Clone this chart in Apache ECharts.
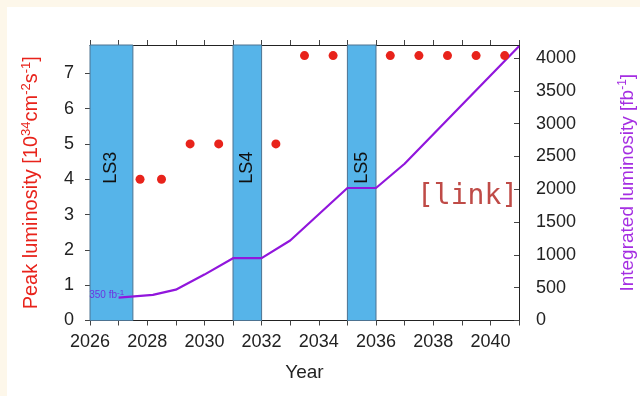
<!DOCTYPE html>
<html>
<head>
<meta charset="utf-8">
<script src="https://cdn.jsdelivr.net/npm/echarts@6/dist/echarts.min.js"></script>
<style>
  html, body { margin: 0; padding: 0; background: #fdf7ea; }
  #wrap { position: relative; width: 640px; height: 396px; }
  #paper { position: absolute; left: 7px; top: 7px; right: 0; bottom: 0; background: #ffffff; }
  #chart { position: absolute; left: 0; top: 0; width: 640px; height: 396px; }
</style>
</head>
<body>
<div id="wrap"><div id="paper"></div><div id="chart"></div></div>
<script>
// Peak luminosity per year (left axis, 10^34 cm^-2 s^-1)
const peakYears  = [2027.75, 2028.5, 2029.5, 2030.5, 2032.5, 2033.5, 2034.5, 2036.5, 2037.5, 2038.5, 2039.5, 2040.5];
const peakValues = [4, 4, 5, 5, 5, 7.5, 7.5, 7.5, 7.5, 7.5, 7.5, 7.5];

// Integrated luminosity (right axis, fb^-1)
const intYears  = [2027, 2028.2, 2029, 2030, 2031, 2032, 2033, 2035, 2036, 2037, 2041];
const intValues = [350, 390, 470, 700, 950, 950, 1220, 2020, 2020, 2390, 4180];

// Long shutdown periods
const shutdownNames = ['LS3', 'LS4', 'LS5'];
const shutdownStart = [2026, 2031, 2035];
const shutdownEnd   = [2027.5, 2032, 2036];

// Axis ticks
const yearMin = 2026, yearMax = 2041;
const peakTicks = [0, 1, 2, 3, 4, 5, 6, 7];
const intTicks = [0, 500, 1000, 1500, 2000, 2500, 3000, 3500, 4000];

const FONT = 'Liberation Sans, Arial, Helvetica, sans-serif';
const RED = '#e8231b';
const PURPLE = '#9116dc';
const BLUE = '#56b4e9';
const NOTE = '#6c35e0';

const chart = echarts.init(document.getElementById('chart'), null, { renderer: 'canvas' });

const bands = shutdownNames.map((n, i) => [
  { xAxis: shutdownStart[i], yAxis: 0, name: n },
  { xAxis: shutdownEnd[i], yAxis: 7.8 }
]);

const supStyle = (color, size) => ({ fontSize: size, color: color, fontFamily: FONT, padding: [0, 0, 10, 0] });

chart.setOption({
  animation: false,
  textStyle: { fontFamily: FONT },
  grid: { left: 90, right: 121, top: 45, bottom: 75.5, outerBoundsMode: 'none', containLabel: false },
  xAxis: [{
    type: 'value', min: yearMin, max: yearMax, interval: 1,
    name: 'Year', nameLocation: 'middle', nameGap: 43,
    nameTextStyle: { fontSize: 19, color: '#222', fontFamily: FONT },
    axisLine: { show: true, onZero: false, lineStyle: { color: '#222', width: 1 } },
    axisTick: { show: true, inside: false, length: 5, lineStyle: { color: '#444' } },
    axisLabel: {
      fontSize: 18, color: '#222', margin: 13, fontFamily: FONT,
      formatter: v => (v % 2 === 0 ? String(v) : '')
    },
    splitLine: { show: false }
  }, {
    type: 'value', min: yearMin, max: yearMax, interval: 1, position: 'top',
    axisLine: { show: true, onZero: false, lineStyle: { color: '#222', width: 1 } },
    axisTick: { show: true, inside: false, length: 5, lineStyle: { color: '#444' } },
    axisLabel: { show: false },
    splitLine: { show: false }
  }],
  yAxis: [{
    type: 'value', min: 0, max: 7.8,
    name: 'Peak luminosity [10{sup|34}cm{sup|-2}s{sup|-1}]',
    nameLocation: 'middle', nameGap: 47, nameRotate: 90,
    nameTextStyle: {
      fontSize: 20, color: RED, fontFamily: FONT,
      rich: { sup: supStyle(RED, 13) }
    },
    axisLine: { show: true, onZero: false, lineStyle: { color: '#222', width: 1 } },
    axisTick: { show: true, inside: false, length: 5, customValues: peakTicks, lineStyle: { color: '#444' } },
    axisLabel: { fontSize: 18, color: '#222', margin: 16, customValues: peakTicks, fontFamily: FONT, formatter: v => String(v) },
    splitLine: { show: false }
  }, {
    type: 'value', min: 0, max: 4200, position: 'right',
    name: 'Integrated luminosity [fb{sup|-1}]',
    nameLocation: 'middle', nameGap: 98, nameRotate: 90,
    nameTextStyle: {
      fontSize: 19, color: '#a52ee2', fontFamily: FONT,
      rich: { sup: supStyle('#a52ee2', 12) }
    },
    axisLine: { show: true, onZero: false, lineStyle: { color: '#222', width: 1 } },
    axisTick: { show: true, inside: true, length: 5, customValues: intTicks, lineStyle: { color: '#444' } },
    axisLabel: { fontSize: 18, color: '#222', margin: 17, customValues: intTicks, fontFamily: FONT, formatter: v => String(v) },
    splitLine: { show: false }
  }],
  series: [{
    type: 'line',
    xAxisIndex: 0, yAxisIndex: 0,
    data: [],
    silent: true,
    markArea: {
      silent: true,
      itemStyle: { color: BLUE, borderColor: '#4d7391', borderWidth: 1 },
      label: {
        show: true, position: 'inside', rotate: 90, offset: [15, 0],
        fontSize: 18, color: '#111', fontFamily: FONT
      },
      data: bands
    }
  }, {
    type: 'line',
    xAxisIndex: 0, yAxisIndex: 1,
    data: intYears.map((x, i) => [x, intValues[i]]),
    showSymbol: false, symbol: 'none',
    lineStyle: { color: PURPLE, width: 2.2 },
    z: 3,
    markPoint: {
      silent: true,
      symbol: 'circle', symbolSize: 1,
      itemStyle: { color: 'rgba(0,0,0,0)' },
      label: {
        show: true, position: 'left', distance: 0, offset: [6, -2],
        formatter: '{main|' + intValues[0] + ' fb}{sup|-1}',
        rich: {
          main: { fontSize: 10, color: NOTE, fontFamily: FONT },
          sup: { fontSize: 8, color: NOTE, fontFamily: FONT, padding: [0, 0, 6, 0] }
        }
      },
      data: [{ coord: [intYears[0], intValues[0]] }]
    }
  }, {
    type: 'scatter',
    xAxisIndex: 0, yAxisIndex: 0,
    data: peakYears.map((x, i) => [x, peakValues[i]]),
    symbolSize: 9,
    itemStyle: { color: RED, opacity: 1 },
    z: 4
  }],
  graphic: [{
    type: 'text', left: 417, top: 183,
    style: { text: '[link]', font: '28px "DejaVu Sans Mono", monospace', fill: '#bf4b47' }
  }]
});
</script>
</body>
</html>
